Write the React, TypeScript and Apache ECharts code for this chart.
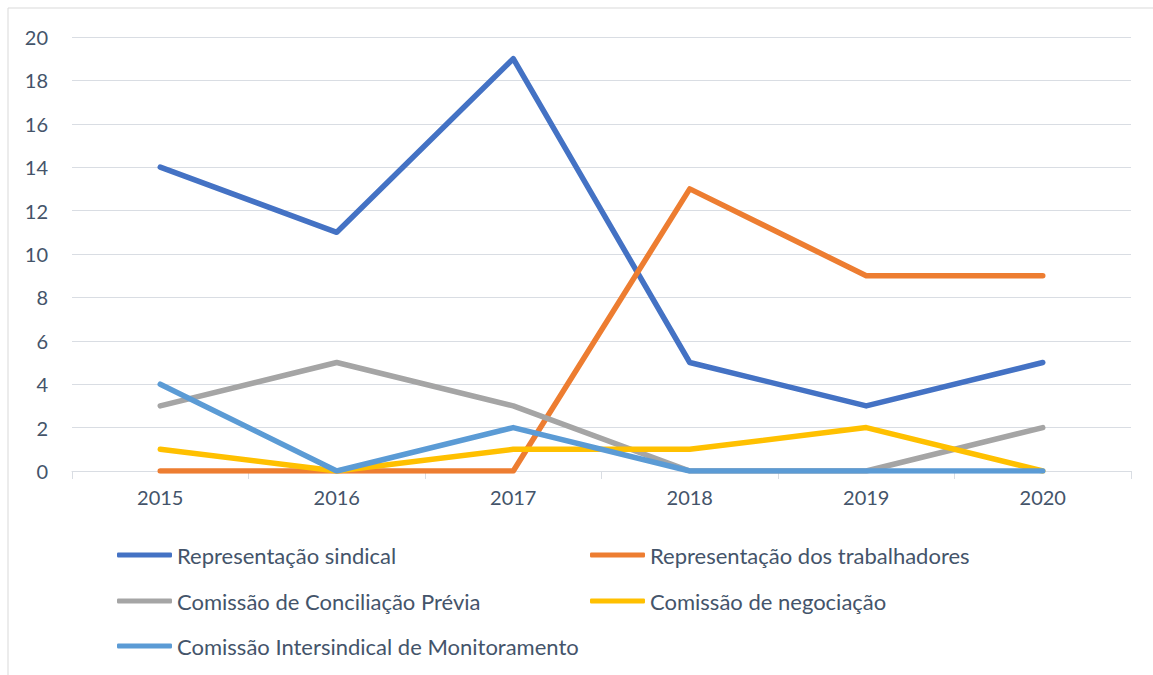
import React, { useEffect, useRef } from "react";
import * as echarts from "echarts";

const years = ["2015", "2016", "2017", "2018", "2019", "2020"];
const seriesNames = [
  "Representação sindical",
  "Representação dos trabalhadores",
  "Comissão de Conciliação Prévia",
  "Comissão de negociação",
  "Comissão Intersindical de Monitoramento",
];
const representacaoSindical = [14, 11, 19, 5, 3, 5];
const representacaoTrabalhadores = [0, 0, 0, 13, 9, 9];
const conciliacaoPrevia = [3, 5, 3, 0, 0, 2];
const negociacao = [1, 0, 1, 1, 2, 0];
const intersindical = [4, 0, 2, 0, 0, 0];
const colors = ["#4472C4", "#ED7D31", "#A5A5A5", "#FFC000", "#5B9BD5"];

const FONT = "Lato";
const TEXT = "#44546A";
const GRID = "#D9DDE3";

export default function App() {
  const ref = useRef<HTMLDivElement>(null);
  useEffect(() => {
    if (!ref.current) return;
    const chart = echarts.init(ref.current, null, { renderer: "svg" });
    const allData = [
      representacaoSindical,
      representacaoTrabalhadores,
      conciliacaoPrevia,
      negociacao,
      intersindical,
    ];
    const legendPos = [
      { left: 117, top: 555 },
      { left: 590, top: 555 },
      { left: 117, top: 601 },
      { left: 590, top: 601 },
      { left: 117, top: 646 },
    ];
    chart.setOption({
      animation: false,
      backgroundColor: "#ffffff",
      color: colors,
      textStyle: { fontFamily: FONT },
      graphic: [
        {
          type: "rect",
          shape: { x: 8, y: 8, width: 1200, height: 800 },
          style: { fill: "none", stroke: "#D9D9D9", lineWidth: 1 },
          silent: true,
        },
      ],
      grid: { left: 72, right: 22, top: 37, bottom: 204, containLabel: false },
      xAxis: {
        type: "category",
        data: years,
        boundaryGap: true,
        axisLine: { show: true, lineStyle: { color: GRID, width: 1 } },
        axisTick: { show: true, length: 8, lineStyle: { color: GRID, width: 1 } },
        axisLabel: { color: TEXT, fontSize: 20, fontFamily: FONT, margin: 16 },
        splitLine: { show: false },
      },
      yAxis: {
        type: "value",
        min: 0,
        max: 20,
        interval: 2,
        axisLine: { show: false },
        axisTick: { show: false },
        axisLabel: { color: TEXT, fontSize: 20, fontFamily: FONT, margin: 24 },
        splitLine: { show: true, lineStyle: { color: GRID, width: 1 } },
      },
      legend: seriesNames.map((name, i) => ({
        data: [name],
        left: legendPos[i].left,
        top: legendPos[i].top - 13,
        icon: "roundRect",
        itemWidth: 55,
        itemHeight: 5,
        itemGap: 0,
        itemTextGap: 2,
        padding: 0,
        selectedMode: false,
        textStyle: { color: TEXT, fontSize: 22, fontFamily: FONT, lineHeight: 26 },
      })),
      series: seriesNames.map((name, i) => ({
        name,
        type: "line",
        data: allData[i],
        symbol: "none",
        lineStyle: { width: 5.5, color: colors[i], cap: "round", join: "round" },
        itemStyle: { color: colors[i] },
      })),
    });
    return () => chart.dispose();
  }, []);
  return (
    <div
      ref={ref}
      style={{ position: "fixed", left: 0, top: 0, width: 1153, height: 675 }}
    />
  );
}
